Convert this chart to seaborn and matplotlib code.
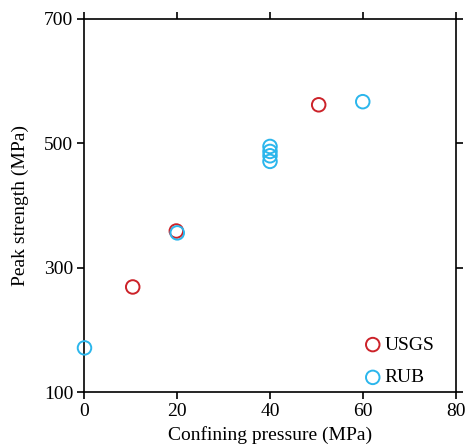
import matplotlib
matplotlib.use("Agg")
import matplotlib.pyplot as plt
import seaborn as sns
import pandas as pd

sns.set_theme(style="ticks")
plt.rcParams['font.family'] = ['Liberation Serif', 'DejaVu Serif']
plt.rcParams['text.color'] = 'black'
plt.rcParams['axes.labelcolor'] = 'black'
plt.rcParams['xtick.color'] = 'black'
plt.rcParams['ytick.color'] = 'black'

usgs_x = [10.4, 19.8, 50.5]
usgs_y = [269, 359, 562]
rub_x = [0, 20, 40, 40, 40, 40, 60]
rub_y = [171, 356, 495, 487, 480, 471, 567]

df = pd.DataFrame({
    "x": usgs_x + rub_x,
    "y": usgs_y + rub_y,
    "src": ["USGS"] * len(usgs_x) + ["RUB"] * len(rub_x),
})

fig = plt.figure(figsize=(4.65, 4.46), dpi=100)
ax = fig.add_axes([0.1817, 0.121, 0.7979, 0.8364])

palette = {"USGS": "#CC2229", "RUB": "#2BB6EC"}
for name in ["USGS", "RUB"]:
    sub = df[df.src == name]
    sns.scatterplot(data=sub, x="x", y="y", ax=ax, s=95, marker="o",
                    facecolors="none", edgecolor=palette[name], linewidth=1.4,
                    label=name, clip_on=False, zorder=3)

ax.set_xlim(0, 80)
ax.set_ylim(100, 700)
ax.set_xticks([0, 20, 40, 60, 80])
ax.set_yticks([100, 300, 500, 700])
ax.tick_params(direction="out", length=5, width=1.2, labelsize=14, color="black",
               labelcolor="black", top=True, right=True, pad=3)
for sp in ax.spines.values():
    sp.set_linewidth(1.2)
    sp.set_color("black")
ax.set_xlabel("Confining pressure (MPa)", fontsize=14, labelpad=4, color="black")
ax.set_ylabel("Peak strength (MPa)", fontsize=14, labelpad=11, color="black")

leg = ax.legend(loc="lower right", bbox_to_anchor=(0.99, -0.032), frameon=False,
                fontsize=14, handletextpad=0.0, labelspacing=0.78,
                handlelength=1.2, borderpad=0.4)
for h in leg.legend_handles:
    h.set_sizes([95])
    h.set_linewidth(1.4)
for t in leg.get_texts():
    t.set_color("black")

fig.savefig("out.png", dpi=100)
